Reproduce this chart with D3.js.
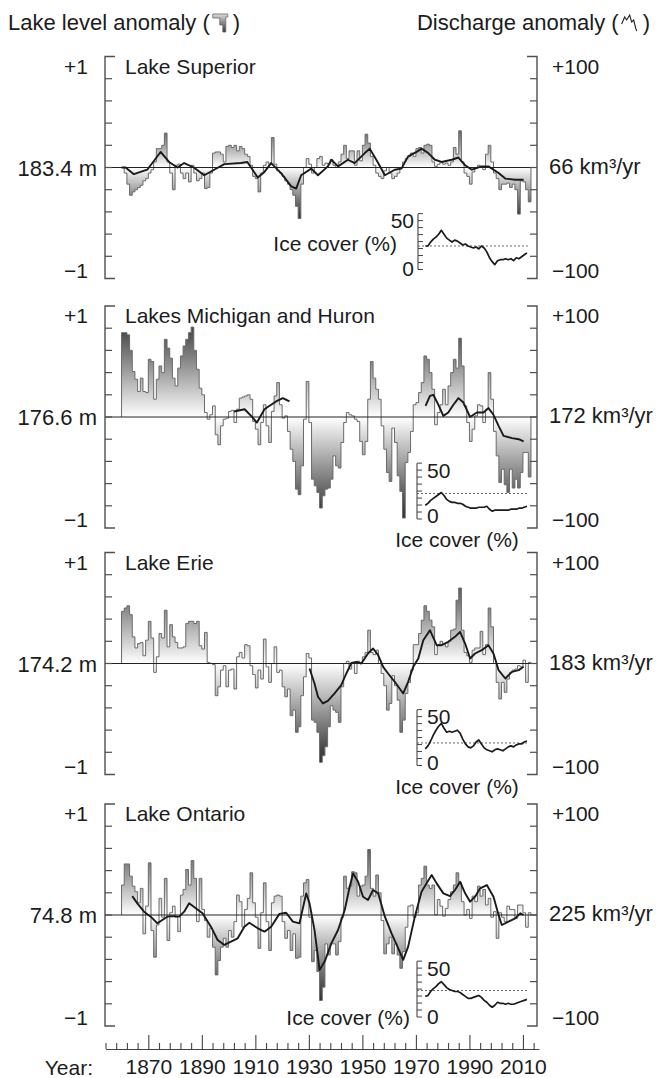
<!DOCTYPE html>
<html><head><meta charset="utf-8">
<script src="https://cdn.jsdelivr.net/npm/d3@7"></script>
<style>body{margin:0;background:#fff}</style>
</head><body>
<script>
// ---------------- DATA ----------------
const levelStart = 1860; // annual lake-level anomalies (m), 1860-2012
const lakeNames = ["Lake Superior", "Lakes Michigan and Huron", "Lake Erie", "Lake Ontario"];
const levelMeans = ["183.4 m", "176.6 m", "174.2 m", "74.8 m"];
const dischargeMeans = ["66 km³/yr", "172 km³/yr", "183 km³/yr", "225 km³/yr"];
const majorYears = [1870, 1890, 1910, 1930, 1950, 1970, 1990, 2010];

const superiorLevel = [
 0.0,-0.05,-0.15,-0.25,-0.22,-0.20,-0.18,-0.16,-0.12,-0.10,
 -0.05,-0.02,0.05,0.17,0.17,0.20,0.31,0.05,-0.05,-0.20,
 0.02,0.03,-0.05,-0.10,-0.05,-0.13,0.02,-0.05,-0.12,-0.10,
 -0.05,-0.19,-0.18,-0.05,0.13,0.14,0.14,0.12,0.05,0.19,
 0.20,0.18,0.20,0.15,0.19,0.17,0.12,0.10,0.02,-0.08,
 -0.10,-0.22,-0.05,0.02,0.05,0.03,0.27,0.03,-0.03,-0.05,
 -0.08,-0.12,-0.15,-0.20,-0.25,-0.35,-0.46,-0.15,0.0,0.08,
 0.03,-0.05,0.0,0.08,0.10,0.02,0.04,0.03,0.07,0.02,
 0.0,0.05,0.12,0.20,0.08,0.15,0.15,0.02,0.15,0.06,
 0.20,0.30,0.22,0.10,0.02,-0.05,-0.08,-0.10,-0.03,0.0,
 -0.05,-0.10,-0.08,-0.05,0.0,0.05,0.08,0.10,0.13,0.10,
 0.17,0.18,0.13,0.20,0.21,0.20,0.05,0.01,0.03,0.05,
 0.03,0.04,0.02,0.05,0.18,0.12,0.33,0.05,-0.05,-0.08,
 -0.15,-0.04,0.0,0.02,0.0,-0.02,0.12,0.20,0.05,-0.05,
 -0.10,-0.20,-0.15,-0.15,-0.14,-0.18,-0.15,-0.20,-0.42,-0.12,
 -0.13,-0.20,-0.31];
const michiganHuronLevel = [
 0.76,0.76,0.74,0.60,0.41,0.34,0.23,0.35,0.23,0.22,
 0.52,0.50,0.16,0.34,0.46,0.40,0.70,0.62,0.53,0.35,
 0.28,0.44,0.55,0.64,0.70,0.76,0.81,0.60,0.43,0.26,
 0.20,0.04,-0.02,0.02,0.10,-0.16,-0.25,-0.08,-0.02,-0.01,
 0.05,0.06,-0.05,0.07,0.17,0.18,0.19,0.20,0.16,-0.04,
 -0.11,-0.25,-0.05,0.11,-0.08,-0.23,0.05,0.19,0.31,0.11,
 -0.01,0.01,-0.13,-0.29,-0.40,-0.65,-0.70,-0.44,-0.02,0.32,
 -0.05,-0.56,-0.62,-0.68,-0.82,-0.71,-0.65,-0.64,-0.56,-0.35,
 -0.44,-0.46,-0.23,-0.05,0.04,0.02,0.01,-0.02,-0.04,-0.22,
 -0.34,-0.22,0.16,0.50,0.35,0.25,0.16,-0.08,-0.29,-0.50,
 -0.58,-0.10,-0.23,-0.53,-0.67,-0.91,-0.41,-0.32,-0.13,0.11,
 0.13,0.22,0.31,0.55,0.52,0.40,0.25,-0.07,0.04,0.11,
 0.25,0.11,0.28,0.40,0.52,0.44,0.71,0.46,0.10,-0.05,
 -0.22,-0.11,0.01,0.11,0.10,-0.05,0.07,0.40,0.16,-0.13,
 -0.35,-0.59,-0.47,-0.61,-0.68,-0.47,-0.64,-0.56,-0.64,-0.50,
 -0.32,-0.32,-0.54];
const erieLevel = [
 0.47,0.50,0.52,0.44,0.24,0.14,0.18,0.19,0.07,0.21,
 0.38,0.23,-0.08,0.06,0.27,0.23,0.48,0.15,0.35,0.24,
 0.19,0.14,0.14,0.15,0.36,0.38,0.38,0.36,0.38,0.16,
 0.13,0.28,0.01,0.0,-0.01,-0.29,-0.21,-0.06,-0.02,-0.21,
 -0.06,-0.05,-0.23,0.06,0.10,0.05,0.17,0.16,-0.02,-0.10,
 -0.22,-0.06,-0.14,0.22,-0.03,-0.17,0.0,0.15,-0.08,-0.06,
 -0.21,-0.30,-0.23,-0.47,-0.42,-0.62,-0.57,-0.29,-0.12,0.09,
 0.05,-0.51,-0.53,-0.62,-0.89,-0.83,-0.75,-0.57,-0.38,-0.42,
 -0.44,-0.53,-0.21,0.0,0.02,-0.05,0.0,-0.09,0.02,0.0,
 0.06,0.10,0.30,0.10,0.08,0.12,0.0,-0.09,-0.20,-0.42,
 -0.36,-0.11,-0.20,-0.33,-0.62,-0.51,-0.27,-0.17,-0.06,0.17,
 0.17,0.27,0.39,0.52,0.47,0.39,0.33,0.08,0.17,0.20,
 0.18,0.15,0.20,0.30,0.31,0.57,0.68,0.30,0.10,0.07,
 0.01,0.12,0.14,0.14,0.29,0.08,0.17,0.50,0.33,0.0,
 -0.17,-0.32,-0.17,-0.26,-0.14,-0.08,-0.06,-0.05,-0.02,-0.03,
 0.03,-0.17,0.01];
const ontarioLevel = [
 0.27,0.46,0.46,0.35,0.26,0.21,0.11,0.24,-0.17,0.08,
 0.47,-0.14,-0.38,-0.09,0.15,-0.02,0.33,-0.23,0.02,0.08,
 -0.02,-0.15,0.18,0.23,0.41,0.27,0.49,0.33,-0.06,0.33,
 0.05,-0.05,-0.20,-0.12,-0.29,-0.54,-0.41,-0.29,-0.21,-0.29,
 -0.14,-0.20,-0.06,0.18,0.12,-0.11,0.05,0.15,0.38,0.11,
 -0.02,-0.30,0.02,0.29,-0.06,-0.32,0.11,0.17,0.18,0.17,
 -0.06,-0.21,-0.14,-0.32,-0.17,-0.39,-0.38,0.17,0.29,0.32,
 -0.02,-0.42,-0.32,-0.51,-0.77,-0.65,-0.26,-0.36,-0.26,-0.26,
 -0.36,-0.24,-0.02,0.35,0.24,0.26,0.39,0.38,0.17,0.26,
 0.27,0.35,0.59,0.24,0.17,0.36,0.20,-0.05,-0.35,-0.26,
 -0.20,-0.35,-0.26,-0.36,-0.48,-0.33,-0.11,0.08,0.09,-0.02,
 0.02,0.27,0.33,0.44,0.27,0.24,0.27,0.0,0.14,0.08,
 -0.01,0.06,0.14,0.21,0.27,0.38,0.29,0.12,0.0,0.05,
 -0.03,0.17,0.12,0.26,0.17,0.23,0.09,0.15,-0.02,0.03,
 -0.21,0.02,-0.02,-0.06,0.08,0.05,0.05,-0.03,0.09,0.09,
 0.02,-0.11,0.02];

// discharge anomalies (km³/yr), smoothed lines
const superiorQYears = [1860,1861.5,1864.6,1869.6,1874.6,1877.75,1880.9,1883.4,1887,1890.9,1894.6,1898.4,1904.6,1907,1910.9,1913.4,1915.9,1919.6,1923.4,1925.25,1927.1,1930.9,1933.4,1937.1,1938.4,1940.9,1944.6,1947.1,1950.9,1952.75,1955.9,1958.4,1962.1,1964.6,1967.1,1970.25,1972.1,1974.6,1977.1,1979.6,1983.4,1985.9,1988.4,1990.9,1994.6,1997.1,2000.9,2003.4,2007.1,2010.25];
const superiorQ = [0,0,-6,-2,14,5,0,4,0,-7,-2,3,4,5,-9,-4,4,-5,-17,-19,-7,-1,-7,1,7,1,7,4,13,17,4,-7,-2,-1,10,14,17,13,7,5,7,9,2,-2,1,1,-5,-10,-11,-11];
const michiganHuronQYears = [1902,1906,1908.4,1910.6,1913.4,1915.9,1917.75,1920.25,1922.75,1950,1973.6,1975.25,1976.5,1978.4,1980.25,1982.1,1984,1985.9,1987.75,1990.25,1992.75,1995.25,1997.1,1999,2000.9,2002.75,2005.9,2008.4,2010.25];
const michiganHuronQ = [5,7,1,-5,7,11,14,17,14,null,10,19,20,11,1,4,11,17,13,0,4,4,8,2,-8,-17,-19,-20,-22];
const erieQYears = [1930.25,1932.1,1933.4,1935.25,1937.1,1939.6,1942.1,1944,1945.9,1947.75,1949.6,1952.1,1954,1955.9,1957.75,1959.6,1962.1,1965.25,1967.1,1969,1970.9,1972.75,1975.25,1977.75,1979.6,1982.1,1984.6,1986.5,1988.4,1990.25,1992.1,1994.6,1997.1,1999,2000.9,2003.4,2005.9,2008.4,2010.25];
const erieQ = [-4.5,-18,-30,-36,-33.6,-27,-19.5,-9,0.6,1.5,0,9,13.5,7.5,-3,-9,-16.5,-27,-16.5,-3,4.5,21,30,16.5,16.5,19.5,24,28.5,18,4.5,9,12,16.5,9,-6,-13.5,-7.5,-6,-3];
const ontarioQYears = [1864,1865.9,1868.4,1870.9,1873.4,1875.25,1877.1,1879,1881.5,1883.4,1885.25,1887.75,1890.25,1893.4,1895.9,1898.4,1900.9,1903.4,1905.9,1907.75,1910.9,1913.4,1915.9,1919,1921.5,1924,1926.5,1929,1930.25,1932.1,1934,1935.9,1938.4,1940.9,1943.4,1945.25,1946.5,1948.4,1950.25,1952.1,1954,1955.9,1958.4,1960.9,1963.4,1965.25,1967.1,1969.6,1972.1,1974,1975.9,1977.75,1980.25,1982.75,1984.6,1986.5,1988.4,1990.25,1992.1,1994,1996.5,1999,2000.9,2002.1,2004.6,2007.1,2009,2010.25];
const ontarioQ = [17,10.5,3,-1.5,-7.5,-4.5,-1.5,-1,-1.5,3,10.5,6,1.5,-10.5,-22.5,-27,-24,-21,-10.5,-7,-12,-15,-10.5,1,2,-6,-7.5,19.5,10.5,-13.5,-49.5,-42,-25.5,-13.5,4.5,25.5,37.5,30,16.5,13.5,22.5,19.5,-1.5,-16.5,-30,-40.5,-28.5,-1.5,21,28.5,36,28.5,19.5,17,22.5,30,19.5,12,16.5,24,27,16.5,0,-9,-6,-3,1.5,0];

// ice cover (%), 1973-2011, and its mean
const iceStart = 1973;
const superiorIce = [24,24,28,31,33,36,40,36,32,30,28,30,29,27,25,26,24,23,22,23,21,24,22,18,12,8,5,9,10,10,11,10,11,9,12,11,13,15,17];
const michiganHuronIce = [14,16,19,21,23,25,27,24,20,18,17,17,16,16,15,13,12,11,11,11,12,12,12,13,10,8,9,9,9,9,9,9,10,10,10,11,11,12,13];
const erieIce = [17,20,25,31,36,40,43,38,34,35,34,35,36,33,27,22,19,18,20,24,26,22,18,16,15,14,16,17,16,15,17,19,20,19,21,22,22,24,25];
const ontarioIce = [21,22,26,29,31,34,36,33,30,28,27,26,26,25,23,21,19,19,20,21,22,20,17,15,12,10,12,15,14,14,13,14,13,13,14,15,16,17,18];
const iceMeans = [24, 26, 23, 27];

const levels = [superiorLevel, michiganHuronLevel, erieLevel, ontarioLevel];
const qYears = [superiorQYears, michiganHuronQYears, erieQYears, ontarioQYears];
const qVals = [superiorQ, michiganHuronQ, erieQ, ontarioQ];
const ices = [superiorIce, michiganHuronIce, erieIce, ontarioIce];

// ---------------- LAYOUT ----------------
const FONT = '"Liberation Sans", Arial, Helvetica, sans-serif';
const FS = 21, FSL = 22, TXT = "#1c1c1c";
const W = 657, H = 1078;
const baselines = [167.5, 417, 663.5, 915];
const HALF = 111;                 // px for 1 m / 100 km³/yr
const XL = 105, XR = 537;
const iceAxisX = [418, 417, 417, 417];
const iceLabelSide = ["left", "right", "right", "right"];
const iceZeroDy = [101, 98.5, 98.5, 101];
const iceTitlePos = [ {x:397, dy:75.5, anchor:"end"}, {x:457, dy:122.5, anchor:"middle"}, {x:457, dy:123, anchor:"middle"}, {x:410, dy:102, anchor:"end"} ];

const svg = d3.select("body").append("svg").attr("width", W).attr("height", H)
  .style("font-family", FONT).style("display","block");
const defs = svg.append("defs");
const x = d3.scaleLinear().domain([1854, 2016]).range([105.5, 539]);

function txt(g, s, xx, yy, anchor, size) {
  return g.append("text").attr("x", xx).attr("y", yy).attr("text-anchor", anchor || "start")
    .attr("font-size", size || FS).attr("fill", TXT).text(s);
}

levels.forEach((level, i) => {
  const b = baselines[i], top = b - HALF, bot = b + HALF;
  const yL = d3.scaleLinear().domain([-1, 1]).range([bot, top]);
  const yQ = d3.scaleLinear().domain([-100, 100]).range([bot, top]);
  const g = svg.append("g");

  // gradient fill, white at baseline to dark at the panel's extremes
  const m = d3.max(level, v => Math.abs(v));
  const grad = defs.append("linearGradient").attr("id", "grad" + i)
    .attr("gradientUnits", "userSpaceOnUse").attr("x1", 0).attr("x2", 0)
    .attr("y1", yL(m)).attr("y2", yL(-m));
  grad.append("stop").attr("offset", 0).attr("stop-color", "#2a2a2a");
  grad.append("stop").attr("offset", 0.5).attr("stop-color", "#ffffff");
  grad.append("stop").attr("offset", 1).attr("stop-color", "#2a2a2a");

  const pts = level.map((v, k) => ({ year: levelStart + k, v }));
  const endYear = levelStart + pts.length;
  const ext = [{ year: levelStart, v: 0 }, ...pts, { year: endYear, v: pts[pts.length - 1].v }, { year: endYear, v: 0 }];
  g.append("path").datum(ext)
    .attr("d", d3.area().x(d => x(d.year)).y0(b).y1(d => yL(d.v)).curve(d3.curveStepAfter))
    .attr("fill", `url(#grad${i})`);
  g.append("path").datum(ext)
    .attr("d", d3.line().x(d => x(d.year)).y(d => yL(d.v)).curve(d3.curveStepAfter))
    .attr("fill", "none").attr("stroke", "#6a6a6a").attr("stroke-width", 1);

  // baseline
  g.append("line").attr("x1", XL).attr("x2", XR).attr("y1", b).attr("y2", b)
    .attr("stroke", "#222").attr("stroke-width", 1.2);

  // discharge line
  const qd = qYears[i].map((yr, k) => ({ year: yr, v: qVals[i][k] }));
  g.append("path").datum(qd)
    .attr("d", d3.line().defined(d => d.v !== null).x(d => x(d.year)).y(d => yQ(d.v)))
    .attr("fill", "none").attr("stroke", "#1a1a1a").attr("stroke-width", 1.9).attr("stroke-linejoin", "round");

  // brackets
  const bc = "#505050";
  g.append("path").attr("d", `M${XL + 10},${top}H${XL}V${bot}H${XL + 10}`)
    .attr("fill", "none").attr("stroke", bc).attr("stroke-width", 1.4);
  g.append("path").attr("d", `M${XR - 10},${top}H${XR}V${bot}H${XR - 10}`)
    .attr("fill", "none").attr("stroke", bc).attr("stroke-width", 1.4);
  d3.range(-4, 5).forEach(k => {
    const yy = yL(k * 0.2);
    g.append("line").attr("x1", XL).attr("x2", XL + 7).attr("y1", yy).attr("y2", yy).attr("stroke", bc).attr("stroke-width", 1.2);
    g.append("line").attr("x1", XR - 7).attr("x2", XR).attr("y1", yy).attr("y2", yy).attr("stroke", bc).attr("stroke-width", 1.2);
  });

  // labels
  txt(g, "+1", 88, top + 17, "end");
  txt(g, levelMeans[i], 97, b + 8, "end", FSL);
  txt(g, "\u22121", 88, bot - 1, "end");
  txt(g, "+100", 552, top + 17, "start");
  txt(g, dischargeMeans[i], 549, b + 6, "start", FSL);
  txt(g, "\u2212100", 552, bot - 1, "start");
  txt(g, lakeNames[i], 125, top + 17, "start");

  // ice-cover inset
  const ax = iceAxisX[i];
  const yI = d3.scaleLinear().domain([0, 50]).range([b + 102, b + 53]);
  const iceTop = 57;
  const ig = g.append("g");
  ig.append("line").attr("x1", ax).attr("x2", ax).attr("y1", yI(0)).attr("y2", yI(iceTop))
    .attr("stroke", "#444").attr("stroke-width", 1.1);
  d3.range(0, 9).forEach(k => {
    const yy = yI(k * iceTop / 8);
    ig.append("line").attr("x1", ax).attr("x2", ax + 5).attr("y1", yy).attr("y2", yy)
      .attr("stroke", "#444").attr("stroke-width", 1);
  });
  ig.append("line").attr("x1", ax).attr("x2", x(2011.8)).attr("y1", yI(iceMeans[i])).attr("y2", yI(iceMeans[i]))
    .attr("stroke", "#666").attr("stroke-width", 1).attr("stroke-dasharray", "2,2");
  const idat = ices[i].map((v, k) => ({ year: iceStart + k + 0.5, v }));
  ig.append("path").datum(idat).attr("d", d3.line().x(d => x(d.year)).y(d => yI(d.v)))
    .attr("fill", "none").attr("stroke", "#1a1a1a").attr("stroke-width", 1.7).attr("stroke-linejoin", "round");
  if (iceLabelSide[i] === "left") {
    txt(ig, "50", ax - 4, yI(50) + 7.5, "end");
    txt(ig, "0", ax - 4, b + iceZeroDy[i] + 7.5, "end");
  } else {
    txt(ig, "50", ax + 10, yI(50) + 7.5, "start");
    txt(ig, "0", ax + 10, b + iceZeroDy[i] + 7.5, "start");
  }
  const tp = iceTitlePos[i];
  txt(ig, "Ice cover (%)", tp.x, b + tp.dy + 7.5, tp.anchor);
});

// header
const hY = 30;
const h1 = txt(svg, "Lake level anomaly (", 8, hY, "start", FSL);
const l1 = h1.node().getComputedTextLength();
const ix = 8 + l1 + 3;
const ig1 = defs.append("linearGradient").attr("id", "iconGrad").attr("x1", 0).attr("x2", 0).attr("y1", 0).attr("y2", 1);
ig1.append("stop").attr("offset", 0).attr("stop-color", "#dddddd");
ig1.append("stop").attr("offset", 1).attr("stop-color", "#333333");
svg.append("path").attr("transform", `translate(${ix},${hY - 16})`)
  .attr("d", "M0,0H15V3H13V18H10V11H7V4H0Z").attr("fill", "url(#iconGrad)").attr("stroke", "#666").attr("stroke-width", 0.8);
txt(svg, ")", ix + 20, hY, "start", FSL);

const rp = txt(svg, ")", 650, hY, "end", FSL);
const rpw = rp.node().getComputedTextLength();
const wx = 650 - rpw - 21;
svg.append("path").attr("transform", `translate(${wx},${hY - 16})`)
  .attr("d", "M0,10L3,3L5,6L8,1L10,8L12,6L14,14L15,17").attr("fill", "none").attr("stroke", "#222").attr("stroke-width", 1.1);
txt(svg, "Discharge anomaly (", wx - 3, hY, "end", FSL);

// x axis
const axisY = 1049;
const minorYears = d3.range(1854, 2015, 4).filter(yr => !majorYears.includes(yr));
const gMinor = svg.append("g").attr("transform", `translate(0,${axisY})`)
  .call(d3.axisBottom(x).tickValues(minorYears).tickSize(-6).tickSizeOuter(0).tickFormat(""));
gMinor.selectAll("path,line").attr("stroke", "#444").attr("stroke-width", 1.1);
const gMajor = svg.append("g").attr("transform", `translate(0,${axisY})`)
  .call(d3.axisBottom(x).tickValues(majorYears).tickSize(-14).tickPadding(10.5).tickFormat(d3.format("d")));
gMajor.select(".domain").remove();
gMajor.selectAll("line").attr("stroke", "#444").attr("stroke-width", 1.1);
gMajor.selectAll("text").attr("font-size", FS).attr("font-family", FONT).attr("fill", TXT);
txt(svg, "Year:", 93, 1074.5, "end");
</script>
</body></html>
